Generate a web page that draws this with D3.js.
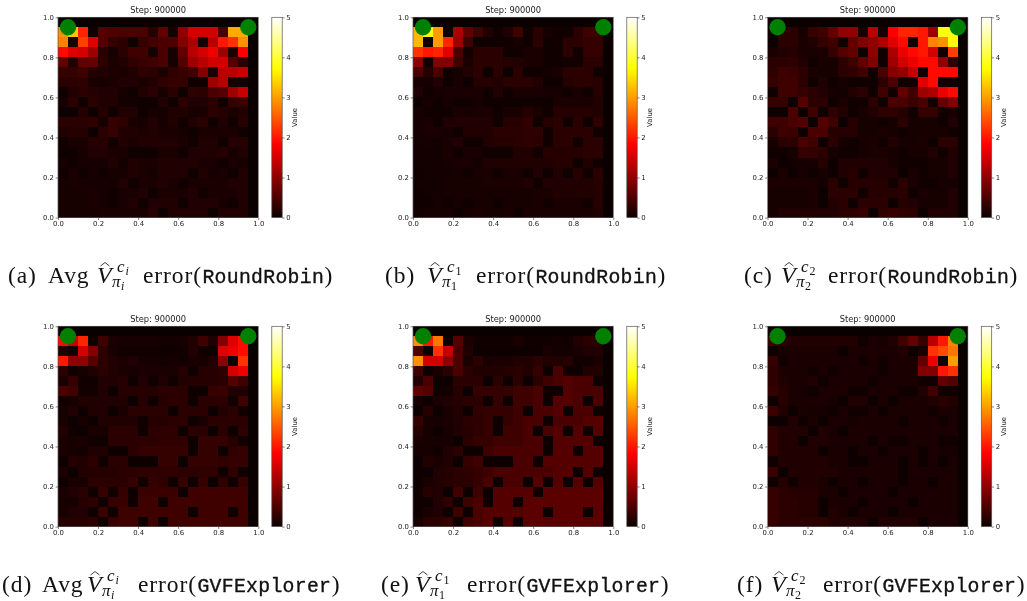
<!DOCTYPE html>
<html>
<head>
<meta charset="utf-8">
<script src="https://cdn.jsdelivr.net/npm/d3@7"></script>
<style>
html, body { margin: 0; padding: 0; background: #ffffff; }
svg { display: block; filter: blur(0.35px); }
</style>
</head>
<body>
<div id="chart"></div>
<script>
// Six value-error heatmaps, 20 x 20 cells, top row first

var stepTitle = "Step: 900000";
var axisTicks = [0, 0.2, 0.4, 0.6, 0.8, 1];
var colorTicks = [0, 1, 2, 3, 4, 5];
var goalPoints = [[0.05, 0.95], [0.95, 0.95]];

var captionLabels = ["(a)", "(b)", "(c)", "(d)", "(e)", "(f)"];
var captionPrefix = ["Avg", "", "", "Avg", "", ""];
var captionIndex = ["i", "1", "2", "i", "1", "2"];
var captionMethod = ["RoundRobin", "RoundRobin", "RoundRobin", "GVFExplorer", "GVFExplorer", "GVFExplorer"];

var emptyRow = [0,0,0,0,0,0,0,0,0,0,0,0,0,0,0,0,0,0,0,0];

var errorA = [
    emptyRow,
    [2.9,3.3,2.1,.04,.55,.5,.47,.47,.47,.2,.65,.08,1,1.5,1.5,1.5,.47,3.1,3.1,0],
    [2.8,.12,2.3,1.6,.55,.31,.23,.04,.31,.43,.47,.5,.9,1.2,.08,1.3,2,2.2,2.9,0],
    [1.9,1.6,1.5,1.1,.23,.08,.23,.39,.39,.08,.47,.08,.65,1.3,1.5,1.7,1.1,.12,1.8,0],
    [.65,.16,.65,.65,.23,.12,.16,.27,.35,.39,.47,.08,.55,1.1,1.3,1.5,1.5,.55,.23,0],
    [.31,.31,.39,.16,.16,.12,.12,.16,.27,.23,.12,.27,.31,.39,.9,.08,1.3,1.3,1.4,0],
    [.23,.23,.27,.12,.08,.12,.16,.16,.12,.16,.27,.31,.31,.04,.04,1.1,1.3,.08,.08,0],
    [.04,.16,.23,.2,.16,.16,.08,.04,.16,.23,.08,.23,.04,.27,.23,.47,.55,1.1,1.4,0],
    [.08,.23,.04,.23,.16,.16,.06,.06,.04,.04,.16,.04,.23,.16,.16,.23,.04,.31,.35,0],
    [.02,.02,.2,.02,.2,.04,.16,.16,.04,.08,.08,.16,.16,.09,.12,.23,.2,.12,.16,0],
    [.23,.23,.23,.27,.08,.31,.27,.12,.09,.16,.08,.16,.04,.16,.23,.04,.16,.04,.2,0],
    [.16,.2,.2,.02,.23,.31,.16,.16,.12,.16,.12,.12,.09,.04,.12,.12,.12,.12,.04,0],
    [.04,.12,.12,.2,.2,.04,.16,.12,.16,.16,.16,.16,.12,.04,.16,.16,.04,.2,.2,0],
    [.04,.04,.08,.16,.16,.12,.12,.04,.04,.04,.12,.12,.04,.16,.16,.16,.2,.08,.16,0],
    [.08,.04,.08,.09,.09,.16,.06,.16,.12,.12,.16,.16,.16,.16,.12,.12,.04,.12,.08,0],
    [.04,.12,.04,.08,.04,.08,.08,.16,.12,.08,.16,.16,.16,.04,.16,.08,.12,.04,.16,0],
    [.08,.12,.08,.08,.08,.08,.16,.04,.12,.12,.16,.12,.04,.12,.12,.12,.12,.16,.16,0],
    [.08,.09,.08,.12,.08,.04,.12,.12,.16,.04,.12,.12,.12,.16,.04,.12,.12,.12,.16,0],
    [.08,.08,.08,.12,.08,.04,.12,.16,.04,.16,.16,.16,.04,.16,.16,.16,.08,.04,.16,0],
    [.08,.09,.09,.09,.12,.12,.12,.12,.12,.2,.02,.16,.16,.16,.16,.04,.16,.16,.16,0]
];

var errorB = [
    emptyRow,
    [3.2,3.7,3,.02,1.2,.65,.39,.16,.04,.16,.39,.04,.23,.08,.04,.04,.23,.39,.39,0],
    [3.2,.02,3,2.1,1.1,.39,.04,.04,.04,.04,.08,.04,.23,.04,.04,.23,.23,.31,.31,0],
    [2.2,2,2.1,1.6,.47,.06,.23,.23,.23,.04,.04,.12,.12,.04,.04,.23,.04,.31,.31,0],
    [1,.04,.9,.9,.39,.12,.23,.23,.23,.2,.16,.12,.12,.04,.04,.06,.06,.23,.23,0],
    [.47,.2,.47,.02,.09,.16,.23,.02,.23,.02,.23,.04,.04,.06,.12,.23,.23,.23,.04,0],
    [.08,.08,.16,.02,.12,.02,.2,.2,.16,.23,.23,.23,.16,.04,.04,.2,.23,.23,.2,0],
    [.16,.04,.09,.12,.12,.12,.12,.04,.16,.04,.12,.12,.12,.08,.08,.04,.12,.04,.2,0],
    [.02,.08,.04,.08,.04,.04,.09,.04,.04,.04,.04,.04,.04,.04,.12,.12,.12,.12,.16,0],
    [.09,.04,.04,.04,.12,.08,.12,.12,.04,.12,.12,.2,.12,.04,.2,.2,.2,.2,.16,0],
    [.08,.12,.04,.16,.16,.16,.16,.16,.04,.2,.2,.27,.04,.2,.23,.04,.23,.04,.27,0],
    [.08,.12,.12,.09,.04,.16,.16,.16,.23,.23,.23,.27,.27,.04,.23,.23,.23,.23,.04,0],
    [.06,.08,.06,.12,.16,.04,.04,.16,.2,.2,.23,.27,.23,.04,.23,.23,.04,.23,.23,0],
    [.06,.06,.06,.12,.04,.12,.12,.04,.04,.04,.16,.16,.04,.2,.2,.2,.2,.23,.23,0],
    [.06,.06,.06,.09,.12,.12,.06,.16,.16,.16,.16,.16,.16,.16,.2,.2,.04,.16,.04,0],
    [.04,.06,.06,.06,.08,.04,.12,.12,.04,.12,.12,.04,.16,.04,.16,.04,.2,.04,.23,0],
    [.06,.06,.06,.08,.09,.08,.08,.12,.12,.12,.12,.16,.04,.16,.16,.16,.16,.16,.2,0],
    [.04,.06,.06,.08,.08,.08,.08,.08,.08,.08,.08,.08,.12,.12,.16,.16,.16,.16,.2,0],
    [.04,.04,.08,.04,.08,.04,.08,.09,.04,.09,.09,.09,.12,.04,.12,.12,.12,.04,.2,0],
    [.05,.08,.09,.08,.04,.09,.12,.09,.09,.12,.04,.12,.12,.12,.12,.12,.12,.12,.16,0]
];

var errorC = [
    emptyRow,
    [.04,.23,.23,.08,.31,.39,.65,1,1,.08,1.3,.08,1.8,2.1,2.1,2,1.1,3.8,3.8,0],
    [.02,.23,.23,.12,.16,.31,.39,.04,.65,.9,1,1.2,1.6,1.9,.04,2,2.8,2.9,3.7,0],
    [.12,.16,.2,.12,.12,.12,.31,.55,.65,.04,1,.04,1.2,1.7,1.9,2,1.5,.04,2.3,0],
    [.23,.23,.27,.16,.04,.12,.08,.23,.39,.65,.9,.04,1.1,1.5,1.7,1.9,1.9,1,.27,0],
    [.27,.39,.35,.23,.12,.08,.08,.23,.27,.39,.04,.47,.9,1,1.4,.04,1.9,1.9,1.9,0],
    [.31,.39,.39,.23,.04,.16,.04,.08,.04,.04,.04,.23,.47,.04,.04,1.6,1.9,.04,.04,0],
    [.04,.39,.39,.31,.23,.16,.08,.06,.16,.23,.04,.39,.04,.65,.39,1.1,1.2,1.7,1.9,0],
    [.31,.31,.04,.55,.23,.23,.04,.12,.04,.04,.23,.04,.47,.47,.35,.47,.04,.65,.9,0],
    [.02,.02,.47,.02,.39,.04,.27,.16,.04,.08,.16,.27,.27,.2,.04,.31,.31,.06,.08,0],
    [.39,.39,.47,.55,.02,.55,.39,.02,.2,.08,.08,.04,.08,.23,.08,.08,.08,.04,.16,0],
    [.23,.39,.35,.02,.47,.47,.2,.2,.2,.08,.08,.12,.08,.04,.08,.08,.08,.08,.04,0],
    [.08,.23,.23,.47,.39,.02,.23,.08,.04,.08,.12,.04,.16,.08,.08,.12,.04,.23,.23,0],
    [.04,.04,.08,.31,.31,.23,.08,.04,.04,.08,.12,.12,.08,.04,.08,.08,.16,.04,.16,0],
    [.12,.02,.06,.08,.08,.2,.02,.16,.16,.16,.16,.16,.08,.04,.04,.04,.08,.08,.16,0],
    [.02,.12,.02,.08,.04,.09,.02,.16,.2,.04,.16,.16,.16,.02,.12,.04,.08,.08,.16,0],
    [.12,.12,.12,.12,.12,.06,.23,.04,.2,.2,.2,.2,.04,.23,.12,.04,.04,.08,.08,0],
    [.09,.09,.09,.09,.12,.02,.23,.23,.23,.04,.2,.2,.2,.23,.02,.12,.08,.08,.16,0],
    [.09,.09,.09,.09,.12,.02,.16,.23,.04,.23,.23,.23,.02,.2,.16,.08,.08,.08,.16,0],
    [.09,.16,.16,.16,.16,.16,.16,.23,.23,.31,.02,.27,.31,.27,.23,.02,.16,.16,.16,0]
];

var errorD = [
    emptyRow,
    [1.9,1.4,2.1,.04,.39,.12,.08,.08,.08,.08,.06,.06,.08,.16,.39,.16,.9,1.6,1.9,0],
    [.16,.04,1.5,.9,.23,.12,.04,.04,.04,.04,.04,.04,.06,.16,.04,.04,1.6,1.7,1.9,0],
    [2,1,1,.55,.23,.16,.12,.16,.08,.08,.06,.09,.06,.12,.09,.16,1,.04,2.2,0],
    [.23,.04,.08,.16,.23,.16,.12,.08,.12,.12,.12,.12,.2,.04,.2,.2,.27,1.5,1.7,0],
    [.12,.31,.04,.04,.16,.16,.2,.04,.16,.04,.16,.04,.16,.2,.2,.2,.23,.55,.39,0],
    [.47,.39,.06,.06,.16,.02,.2,.2,.2,.2,.23,.23,.23,.02,.02,.31,.35,.16,.16,0],
    [.04,.08,.16,.16,.16,.16,.16,.02,.2,.02,.2,.23,.23,.02,.23,.23,.23,.06,.39,0],
    [.08,.16,.02,.16,.16,.02,.12,.23,.23,.23,.23,.02,.23,.23,.23,.02,.16,.23,.04,0],
    [.09,.02,.08,.02,.16,.16,.16,.16,.04,.2,.2,.23,.23,.04,.12,.23,.23,.23,.23,0],
    [.16,.04,.02,.12,.08,.23,.23,.23,.04,.23,.27,.27,.02,.23,.23,.02,.23,.02,.27,0],
    [.12,.08,.12,.04,.04,.23,.23,.23,.23,.23,.27,.27,.27,.02,.31,.31,.31,.2,.04,0],
    [.12,.08,.06,.16,.16,.02,.02,.23,.31,.31,.31,.31,.31,.02,.31,.31,.02,.27,.31,0],
    [.02,.2,.16,.23,.04,.23,.23,.02,.02,.02,.31,.31,.02,.31,.31,.31,.27,.31,.31,0],
    [.12,.02,.16,.2,.2,.2,.23,.23,.27,.27,.27,.27,.23,.23,.27,.27,.02,.27,.04,0],
    [.02,.12,.08,.23,.23,.23,.23,.31,.04,.31,.27,.02,.31,.02,.31,.02,.27,.02,.31,0],
    [.12,.16,.23,.04,.31,.04,.31,.02,.35,.35,.35,.35,.02,.39,.39,.39,.39,.39,.39,0],
    [.08,.08,.2,.23,.04,.31,.35,.02,.39,.39,.02,.39,.39,.39,.39,.39,.39,.39,.39,0],
    [.09,.16,.16,.04,.35,.02,.39,.39,.39,.39,.39,.39,.39,.02,.39,.39,.39,.04,.39,0],
    [.2,.2,.2,.23,.04,.35,.39,.39,.02,.39,.02,.39,.39,.39,.39,.39,.39,.39,.39,0]
];

var errorE = [
    emptyRow,
    [2.9,2,2.7,.02,.55,.12,.04,.04,.04,.04,.12,.04,.04,.04,.06,.04,.16,.23,.23,0],
    [.47,.02,2.2,1.4,.47,.16,.02,.02,.02,.02,.02,.02,.02,.12,.06,.06,.12,.16,.16,0],
    [2.9,1.5,1.5,1,.47,.12,.23,.08,.12,.12,.16,.16,.23,.16,.16,.2,.04,.04,.12,0],
    [.39,.02,.12,.23,.47,.23,.16,.16,.16,.2,.23,.16,.31,.02,.47,.02,.02,.16,.16,0],
    [.16,.47,.02,.02,.23,.23,.23,.02,.23,.02,.23,.02,.23,.39,.47,.55,.47,.47,.02,0],
    [.65,.55,.04,.06,.2,.02,.31,.31,.31,.31,.39,.39,.47,.02,.02,.55,.47,.47,.47,0],
    [.08,.02,.12,.16,.2,.23,.23,.02,.31,.02,.39,.39,.47,.02,.55,.55,.47,.02,.47,0],
    [.02,.2,.02,.12,.16,.02,.27,.31,.31,.31,.39,.02,.47,.47,.55,.02,.47,.47,.02,0],
    [.31,.08,.08,.12,.16,.23,.27,.31,.02,.31,.39,.47,.47,.02,.47,.47,.47,.55,.55,0],
    [.2,.08,.02,.09,.16,.2,.27,.31,.02,.39,.39,.47,.02,.47,.55,.02,.55,.02,.55,0],
    [.12,.08,.08,.08,.02,.23,.31,.31,.39,.39,.39,.47,.47,.02,.55,.55,.55,.55,.02,0],
    [.08,.08,.04,.16,.23,.02,.02,.39,.47,.47,.47,.47,.47,.02,.55,.55,.02,.55,.55,0],
    [.02,.16,.12,.16,.02,.31,.39,.02,.02,.02,.47,.47,.02,.55,.55,.55,.55,.55,.55,0],
    [.02,.02,.16,.2,.23,.27,.31,.39,.47,.47,.47,.47,.47,.47,.55,.55,.02,.55,.02,0],
    [.02,.12,.16,.2,.23,.23,.31,.47,.02,.47,.47,.02,.55,.02,.55,.02,.55,.02,.55,0],
    [.04,.2,.16,.02,.39,.02,.39,.02,.55,.55,.55,.55,.02,.6,.6,.6,.6,.6,.6,0],
    [.04,.02,.16,.27,.02,.39,.47,.02,.55,.55,.02,.6,.6,.6,.6,.6,.6,.6,.6,0],
    [.04,.12,.16,.02,.39,.02,.47,.55,.55,.55,.55,.6,.6,.02,.6,.6,.6,.02,.6,0],
    [.08,.23,.23,.31,.02,.39,.47,.55,.02,.55,.02,.6,.6,.6,.6,.6,.6,.6,.6,0]
];

var errorF = [
    emptyRow,
    [.31,.23,.16,.16,.16,.16,.16,.16,.16,.04,.12,.08,.16,.39,.65,.31,1.3,2,2.8,0],
    [.02,.08,.12,.12,.12,.12,.12,.02,.12,.12,.12,.12,.12,.16,.02,.08,2.2,2.4,2.7,0],
    [.31,.04,.12,.12,.12,.12,.12,.12,.12,.04,.12,.04,.12,.12,.12,.65,1.7,.02,3,0],
    [.27,.12,.12,.12,.04,.12,.04,.12,.12,.12,.12,.04,.12,.12,.12,.9,.9,2,2.2,0],
    [.27,.16,.12,.12,.16,.04,.12,.12,.12,.12,.04,.12,.12,.12,.12,.04,.04,.65,.55,0],
    [.31,.2,.12,.08,.04,.12,.12,.12,.04,.04,.12,.12,.12,.04,.04,.16,.39,.04,.04,0],
    [.02,.2,.12,.12,.12,.12,.08,.02,.16,.16,.02,.12,.02,.12,.12,.12,.16,.23,.16,0],
    [.35,.16,.02,.12,.08,.08,.04,.12,.04,.04,.12,.02,.12,.12,.12,.12,.04,.12,.12,0],
    [.02,.02,.16,.02,.12,.02,.12,.12,.08,.12,.12,.12,.12,.04,.12,.12,.12,.04,.12,0],
    [.27,.16,.16,.16,.02,.16,.12,.02,.12,.12,.12,.12,.12,.12,.12,.12,.12,.12,.12,0],
    [.27,.16,.16,.02,.16,.16,.12,.12,.12,.12,.02,.12,.04,.04,.12,.12,.12,.04,.04,0],
    [.27,.16,.16,.16,.16,.02,.12,.12,.02,.12,.12,.02,.12,.12,.12,.02,.12,.08,.08,0],
    [.04,.16,.16,.16,.16,.16,.12,.12,.02,.02,.12,.12,.12,.02,.12,.02,.12,.02,.12,0],
    [.35,.02,.16,.16,.16,.16,.16,.12,.12,.12,.12,.12,.12,.02,.12,.12,.12,.12,.12,0],
    [.02,.2,.02,.16,.16,.12,.02,.12,.12,.02,.12,.12,.12,.02,.12,.12,.02,.12,.12,0],
    [.31,.23,.2,.2,.2,.12,.12,.02,.12,.12,.12,.12,.02,.12,.12,.12,.12,.12,.12,0],
    [.31,.23,.23,.2,.2,.02,.12,.12,.12,.02,.12,.12,.12,.12,.02,.12,.12,.12,.12,0],
    [.31,.23,.23,.2,.2,.02,.16,.12,.02,.12,.12,.12,.02,.12,.12,.12,.12,.12,.12,0],
    [.31,.23,.23,.23,.23,.23,.16,.16,.16,.16,.02,.16,.16,.16,.16,.02,.12,.12,.12,0]
];

var panelErrors = [errorA, errorB, errorC, errorD, errorE, errorF];

(function() {

    var width = 1027;
    var height = 601;

    var panelLeft = [58, 413, 767.5];
    var panelTop = [17.3, 326.3];
    var panelSize = 200.3;

    // x of each caption part
    var captionStart = [8, 385, 744, 2, 381, 737];
    var prefixStart = [48, 0, 0, 42, 0, 0];
    var hatStart = [97, 427, 781, 87, 415, 771];
    var errorStart = [143, 476, 828, 138, 467, 823];
    var captionBase = [283, 592];

    var sansFont = "DejaVu Sans, sans-serif";
    var serifFont = "Liberation Serif, serif";
    var monoFont = "Liberation Mono, monospace";

    var svg = d3.select("#chart")
        .append("svg")
        .attr("width", width)
        .attr("height", height);

    svg.append("rect")
        .attr("width", width)
        .attr("height", height)
        .attr("fill", "#ffffff");

    // matplotlib "hot", as a piecewise scale over 0..5
    var hot = d3.scaleLinear()
        .domain([0, 1.83, 3.73, 5])
        .range(["#0b0000", "#ff0000", "#ffff00", "#ffffff"])
        .clamp(true);

    var defs = svg.append("defs");
    var gradient = defs.append("linearGradient")
        .attr("id", "hot-gradient")
        .attr("x1", 0).attr("y1", 1)
        .attr("x2", 0).attr("y2", 0);

    hot.domain().forEach(function(v) {
        gradient.append("stop")
            .attr("offset", v / 5)
            .attr("stop-color", hot(v));
    });

    panelErrors.forEach(function(matrix, i) {
        var left = panelLeft[i % 3];
        var top = panelTop[Math.floor(i / 3)];
        drawPanel(matrix, left, top);
        drawCaption(i, captionBase[Math.floor(i / 3)]);
    });

    function styleAxis(axisGroup) {
        axisGroup.selectAll("path").remove();
        axisGroup.selectAll("line")
            .attr("stroke", "#333333")
            .attr("stroke-width", 0.6);
        axisGroup.selectAll("text")
            .attr("font-family", sansFont)
            .attr("font-size", "6.9px")
            .attr("fill", "#222222");
    }

    function drawPanel(matrix, left, top) {

        var x = d3.scaleLinear().domain([0, 1]).range([left, left + panelSize]);
        var y = d3.scaleLinear().domain([0, 1]).range([top + panelSize, top]);

        var cells = [];
        matrix.forEach(function(row, r) {
            row.forEach(function(v, c) {
                cells.push({ row: r, col: c, value: v });
            });
        });

        var g = svg.append("g");

        g.selectAll(".cell")
            .data(cells)
            .enter()
            .append("rect")
            .attr("class", "cell")
            .attr("x", function(d) { return x(d.col / 20); })
            .attr("y", function(d) { return y(1 - d.row / 20); })
            .attr("width", x(1 / 20) - x(0))
            .attr("height", y(0) - y(1 / 20))
            .attr("fill", function(d) { return hot(d.value); })
            .attr("shape-rendering", "crispEdges");

        g.selectAll(".goal")
            .data(goalPoints)
            .enter()
            .append("circle")
            .attr("class", "goal")
            .attr("cx", function(d) { return x(d[0]); })
            .attr("cy", function(d) { return y(d[1]); })
            .attr("r", 8.2)
            .attr("fill", "#008000");

        g.append("rect")
            .attr("x", left)
            .attr("y", top)
            .attr("width", panelSize)
            .attr("height", panelSize)
            .attr("fill", "none")
            .attr("stroke", "#555555")
            .attr("stroke-width", 0.7);

        var xAxis = g.append("g")
            .attr("transform", "translate(0," + (top + panelSize) + ")")
            .call(d3.axisBottom(x).tickValues(axisTicks).tickFormat(d3.format(".1f")).tickSize(2.4).tickPadding(1.6));
        styleAxis(xAxis);

        var yAxis = g.append("g")
            .attr("transform", "translate(" + left + ",0)")
            .call(d3.axisLeft(y).tickValues(axisTicks).tickFormat(d3.format(".1f")).tickSize(2.4).tickPadding(1.6));
        styleAxis(yAxis);

        g.append("text")
            .attr("x", left + panelSize / 2)
            .attr("y", top - 4)
            .attr("text-anchor", "middle")
            .attr("font-family", sansFont)
            .attr("font-size", "8.3px")
            .attr("fill", "#222222")
            .text(stepTitle);

        // Colorbar
        var barLeft = left + panelSize + 13.5;
        var barWidth = 10.4;
        var colorScale = d3.scaleLinear().domain([0, 5]).range([top + panelSize, top]);

        g.append("rect")
            .attr("x", barLeft)
            .attr("y", top)
            .attr("width", barWidth)
            .attr("height", panelSize)
            .attr("fill", "url(#hot-gradient)")
            .attr("stroke", "#555555")
            .attr("stroke-width", 0.7);

        var colorAxis = g.append("g")
            .attr("transform", "translate(" + (barLeft + barWidth) + ",0)")
            .call(d3.axisRight(colorScale).tickValues(colorTicks).tickFormat(d3.format("d")).tickSize(2.4).tickPadding(1.6));
        styleAxis(colorAxis);

        g.append("text")
            .attr("transform", "translate(" + (barLeft + barWidth + 14.5) + "," + (top + panelSize / 2) + ") rotate(-90)")
            .attr("text-anchor", "middle")
            .attr("font-family", sansFont)
            .attr("font-size", "6.9px")
            .attr("fill", "#222222")
            .text("Value");
    }

    function drawCaption(i, base) {

        var g = svg.append("g")
            .attr("fill", "#111111");

        function plain(text, xPos) {
            return g.append("text")
                .attr("x", xPos)
                .attr("y", base)
                .attr("font-family", serifFont)
                .attr("font-size", "23.5px")
                .attr("letter-spacing", "0.9px")
                .text(text);
        }

        plain(captionLabels[i], captionStart[i]);

        if (captionPrefix[i]) {
            plain(captionPrefix[i], prefixStart[i]);
        }

        // V with its hat, superscript and subscript in one text element
        var v = hatStart[i];
        var idx = captionIndex[i];
        var idxStyle = idx === "i" ? "italic" : "normal";

        g.append("path")
            .attr("d", "M" + (v + 3.5) + "," + (base - 17) + "L" + (v + 8) + "," + (base - 20.5) + "L" + (v + 12.5) + "," + (base - 17))
            .attr("fill", "none")
            .attr("stroke", "#111111")
            .attr("stroke-width", 0.8);

        var math = g.append("text")
            .attr("font-family", serifFont);

        function script(text, xPos, yPos, size, style) {
            math.append("tspan")
                .attr("x", xPos)
                .attr("y", yPos)
                .attr("font-size", size + "px")
                .attr("font-style", style)
                .text(text);
        }

        script("V", v, base, 24, "italic");
        script("c", v + 20, base - 11, 17, "italic");
        script(idx, v + 28.5, base - 8.5, 12, idxStyle);
        script("π", v + 15, base + 4, 17, "italic");
        script(idx, v + 24, base + 7, 12, idxStyle);

        // Mono part follows straight after "error(", the paren after that
        var errorText = plain("error(", errorStart[i]);
        var methodStart = errorStart[i] + errorText.node().getComputedTextLength() + 0.5;

        var method = g.append("text")
            .attr("x", methodStart)
            .attr("y", base)
            .attr("font-family", monoFont)
            .attr("font-size", "19.8px")
            .attr("letter-spacing", "0.3px")
            .attr("stroke", "#111111")
            .attr("stroke-width", 0.35)
            .text(captionMethod[i]);

        plain(")", methodStart + method.node().getComputedTextLength() + 0.5);
    }

})();
</script>
</body>
</html>
